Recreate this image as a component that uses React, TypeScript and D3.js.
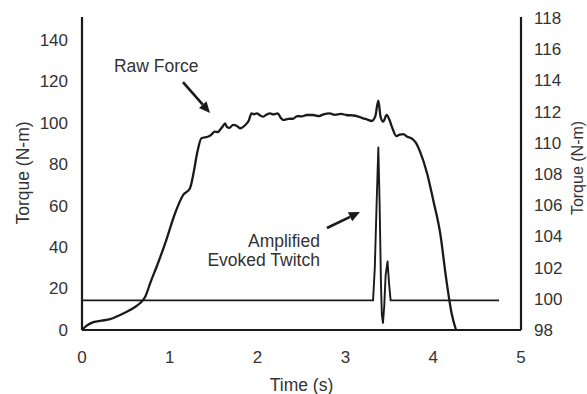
import React from "react";
import * as d3 from "d3";

const rawT = [0, 0.05, 0.13, 0.22, 0.32, 0.42, 0.51, 0.6, 0.66, 0.72, 0.78, 0.85, 0.96, 1.06, 1.15, 1.23, 1.27, 1.31, 1.36, 1.44, 1.48, 1.51, 1.55, 1.57, 1.6, 1.63, 1.65, 1.68, 1.72, 1.76, 1.8, 1.86, 1.9, 1.93, 1.96, 1.99, 2.03, 2.06, 2.1, 2.14, 2.18, 2.23, 2.26, 2.29, 2.35, 2.41, 2.45, 2.5, 2.56, 2.63, 2.7, 2.75, 2.82, 2.88, 2.95, 3.01, 3.08, 3.13, 3.2, 3.25, 3.3, 3.34, 3.375, 3.4, 3.43, 3.47, 3.5, 3.53, 3.58, 3.62, 3.66, 3.7, 3.75, 3.8, 3.85, 3.93, 4.0, 4.08, 4.15, 4.21, 4.26];
const rawV = [0, 2, 3.8, 4.5, 5.2, 7, 8.8, 11, 12.9, 16, 23, 30.5, 43.4, 56.3, 65, 68.4, 75.6, 85, 92.5, 93.3, 94.5, 95.7, 95.5, 96.5, 98, 99.7, 98, 97.5, 98.9, 98.5, 97.3, 98.9, 101, 104.5, 104, 104.5, 103.5, 102.9, 103.8, 104.5, 104, 104.5, 102.5, 101.3, 101.8, 102, 103.2, 103, 103.7, 103.7, 103.2, 104, 104.5, 103.8, 104.2, 103.7, 103.5, 103.2, 102.1, 101.5, 100.8, 103, 110.6, 103, 100.5, 103.7, 101.5, 98, 93.5, 94.2, 94.5, 93.3, 92.5, 90.5, 86, 75.6, 62.7, 46.6, 24.1, 8, 0];

const twitchT = [0, 3.315, 3.335, 3.355, 3.375, 3.39, 3.405, 3.415, 3.428, 3.442, 3.458, 3.48, 3.497, 3.515, 4.75];
const twitchV = [99.9, 99.9, 102, 106, 109.7, 106, 101, 99, 98.45, 99.5, 101.5, 102.4, 101, 99.9, 99.9];

const xTicks = [0, 1, 2, 3, 4, 5];
const leftTicks = [0, 20, 40, 60, 80, 100, 120, 140];
const rightTicks = [98, 100, 102, 104, 106, 108, 110, 112, 114, 116, 118];

const W = 587, H = 394;
const FONT = "'Liberation Sans', Arial, sans-serif";
const INK = "#1a1a1a";
const TXT = "#333";

export default function App() {
  const x = d3.scaleLinear().domain([0, 5]).range([82, 521]);
  const yL = d3.scaleLinear().domain([0, 150]).range([330, 19]);
  const yR = d3.scaleLinear().domain([98, 118]).range([330, 18]);

  const rawData = rawT.map((t, i) => [t, rawV[i]] as [number, number]);
  const twData = twitchT.map((t, i) => [t, twitchV[i]] as [number, number]);

  const rawLine = d3.line<[number, number]>().x(d => x(d[0])).y(d => yL(d[1])).curve(d3.curveMonotoneX);
  const twLine = d3.line<[number, number]>().x(d => x(d[0])).y(d => yR(d[1])).curve(d3.curveLinear);

  const arrow = (t0: number, v0: number, t1: number, v1: number) => {
    const x0 = x(t0), y0 = yL(v0), x1 = x(t1), y1 = yL(v1);
    const ang = Math.atan2(y1 - y0, x1 - x0);
    const L = 11, Wd = 5;
    const bx = x1 - L * Math.cos(ang), by = y1 - L * Math.sin(ang);
    const px = -Math.sin(ang) * Wd, py = Math.cos(ang) * Wd;
    return (
      <g>
        <line x1={x0} y1={y0} x2={bx} y2={by} stroke={INK} strokeWidth={2.6} />
        <path d={`M${x1},${y1}L${bx + px},${by + py}L${bx - px},${by - py}Z`} fill={INK} />
      </g>
    );
  };

  const TF = 17;
  const LF = 17.5;

  return (
    <svg width={W} height={H} style={{ position: "absolute", left: 0, top: 0, background: "#fff" }} fontFamily={FONT}>
      {/* axes */}
      <line x1={x(0)} x2={x(0)} y1={yL(0)} y2={17} stroke={INK} strokeWidth={2.2} />
      <line x1={x(5)} x2={x(5)} y1={yL(0)} y2={17} stroke={INK} strokeWidth={2.2} />
      <line x1={x(0)} x2={x(5)} y1={yL(0)} y2={yL(0)} stroke={INK} strokeWidth={2.2} />

      {leftTicks.map(v => (
        <text key={"l" + v} x={68} y={yL(v)} dy="0.35em" textAnchor="end" fontSize={TF} fill={TXT}>{v}</text>
      ))}
      {rightTicks.map(v => (
        <text key={"r" + v} x={534} y={yR(v)} dy="0.35em" textAnchor="start" fontSize={TF} fill={TXT}>{v}</text>
      ))}
      {xTicks.map(v => (
        <text key={"x" + v} x={x(v)} y={357} dy="0.35em" textAnchor="middle" fontSize={TF} fill={TXT}>{v}</text>
      ))}

      <text x={(x(0) + x(5)) / 2} y={385} dy="0.35em" textAnchor="middle" fontSize={LF} fill={TXT}>Time (s)</text>
      <text transform={`translate(29,173) rotate(-90)`} textAnchor="middle" fontSize={LF} fill={TXT}>Torque (N-m)</text>
      <text transform={`translate(583,168) rotate(-90)`} textAnchor="middle" fontSize={16} fill={TXT}>Torque (N-m)</text>

      {/* data */}
      <path d={twLine(twData) || ""} fill="none" stroke={INK} strokeWidth={1.9} strokeLinejoin="round" />
      <path d={rawLine(rawData) || ""} fill="none" stroke={INK} strokeWidth={2.3} strokeLinejoin="round" />

      {/* annotations */}
      <text x={x(0.364)} y={yL(124.5)} fontSize={LF} fill={TXT}>Raw Force</text>
      {arrow(1.15, 119.6, 1.458, 104.7)}
      <text x={x(2.71)} y={yL(40)} textAnchor="end" fontSize={LF} fill={TXT}>Amplified</text>
      <text x={x(2.71)} y={yL(30.9)} textAnchor="end" fontSize={LF} fill={TXT}>Evoked Twitch</text>
      {arrow(2.79, 49.2, 3.166, 56.9)}
    </svg>
  );
}
